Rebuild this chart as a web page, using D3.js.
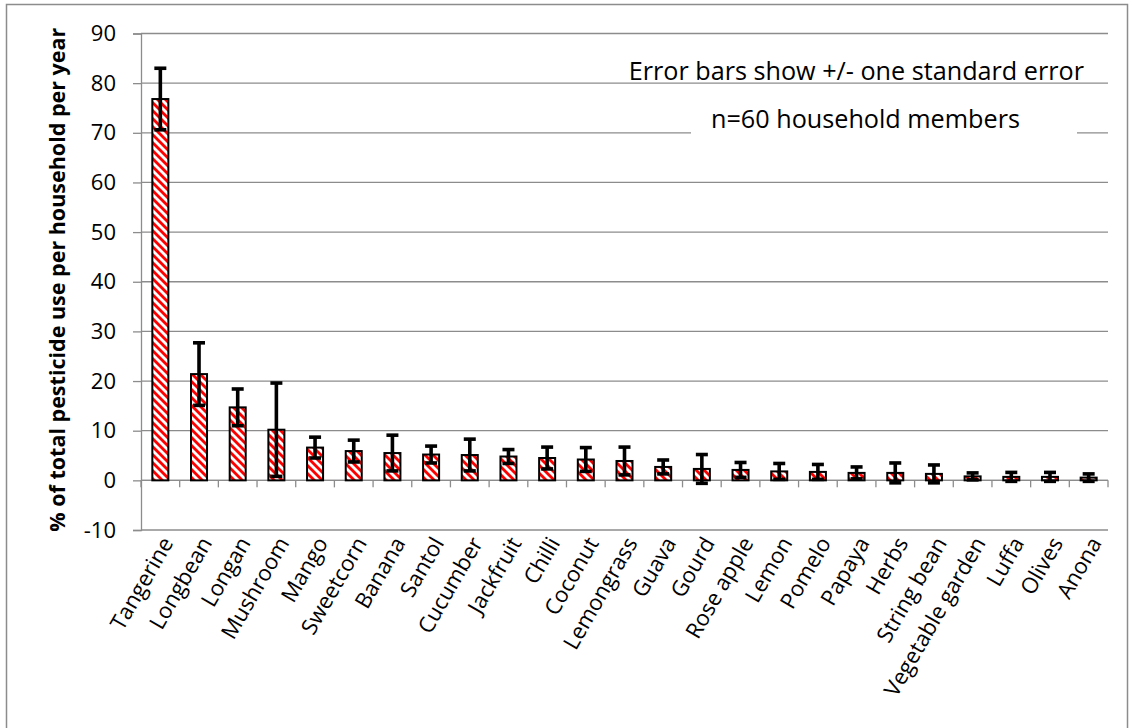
<!DOCTYPE html>
<html>
<head>
<meta charset="utf-8">
<script src="https://cdn.jsdelivr.net/npm/d3@7"></script>
<style>
  html, body { margin: 0; padding: 0; background: #fff; }
  svg { display: block; font-family: "Open Sans", "Noto Sans", sans-serif; }
</style>
</head>
<body>
<svg id="chart" width="1132" height="728"></svg>
<script>
// Crops ranked by share of household pesticide use
const crops = ["Tangerine", "Longbean", "Longan", "Mushroom", "Mango", "Sweetcorn", "Banana",
  "Santol", "Cucumber", "Jackfruit", "Chilli", "Coconut", "Lemongrass", "Guava", "Gourd",
  "Rose apple", "Lemon", "Pomelo", "Papaya", "Herbs", "String bean", "Vegetable garden",
  "Luffa", "Olives", "Anona"];
// Mean % of total pesticide use per household per year
const meanShare = [76.8, 21.4, 14.7, 10.2, 6.6, 5.9, 5.5, 5.2, 5.1, 4.8, 4.5, 4.2, 3.9,
  2.7, 2.3, 2.1, 1.8, 1.7, 1.5, 1.5, 1.3, 0.8, 0.7, 0.7, 0.55];
// One standard error either side of the mean
const stdError = [6.2, 6.3, 3.7, 9.4, 2.1, 2.2, 3.6, 1.7, 3.2, 1.4, 2.2, 2.4, 2.8,
  1.4, 2.9, 1.5, 1.6, 1.5, 1.2, 2.0, 1.8, 0.7, 0.9, 0.9, 0.75];
const yTicks = [-10, 0, 10, 20, 30, 40, 50, 60, 70, 80, 90];
const yTitle = "% of total pesticide use per household per year";
const noteLines = ["Error bars show +/- one standard error", "n=60 household members"];

const rows = crops.map((c, i) => ({ crop: c, mean: meanShare[i], se: stdError[i] }));

const svg = d3.select("#chart");
const plot = { left: 141, right: 1108, top: 33.5, bottom: 530 };
const grey = "#8c8c8c";

// Outer chart frame
svg.append("rect")
  .attr("x", 6.5).attr("y", 4.5)
  .attr("width", 1121).attr("height", 760)
  .attr("fill", "none").attr("stroke", grey).attr("stroke-width", 1.5);

// Red / white downward diagonal hatch
const defs = svg.append("defs");
const pat = defs.append("pattern")
  .attr("id", "hatch").attr("patternUnits", "userSpaceOnUse")
  .attr("width", 8).attr("height", 8);
pat.append("rect").attr("width", 8).attr("height", 8).attr("fill", "#fff");
pat.append("polygon").attr("points", "0,0 4,0 8,4 8,8").attr("fill", "#ff0000");
pat.append("polygon").attr("points", "0,4 4,8 0,8").attr("fill", "#ff0000");

const x = d3.scaleBand()
  .domain(crops)
  .range([plot.left, plot.right])
  .paddingInner(0.586)
  .paddingOuter(0.293);

const y = d3.scaleLinear()
  .domain([-10, 90])
  .range([plot.bottom, plot.top]);

// Horizontal gridlines
svg.append("g").selectAll("line")
  .data(yTicks)
  .join("line")
  .attr("x1", plot.left).attr("x2", plot.right)
  .attr("y1", d => y(d)).attr("y2", d => y(d))
  .attr("stroke", grey).attr("stroke-width", 1.3);

// Value axis
const yAxis = svg.append("g")
  .attr("transform", `translate(${plot.left},0)`)
  .call(d3.axisLeft(y).tickValues(yTicks).tickSize(8).tickPadding(17)
    .tickFormat(d => (d < 0 ? "-" + Math.abs(d) : String(d))));
yAxis.attr("font-family", null).attr("font-size", null);
yAxis.select(".domain").attr("stroke", grey).attr("stroke-width", 1.3);
yAxis.selectAll(".tick line").attr("stroke", grey).attr("stroke-width", 1.3);
yAxis.selectAll("text")
  .attr("font-size", 22).attr("fill", "#000");

// Category axis through zero, ticks between categories
const step = x.step();
const catAxis = svg.append("g");
catAxis.append("line")
  .attr("x1", plot.left).attr("x2", plot.right)
  .attr("y1", y(0)).attr("y2", y(0))
  .attr("stroke", grey).attr("stroke-width", 1.3);
catAxis.selectAll("line.tick")
  .data(d3.range(crops.length + 1))
  .join("line")
  .attr("class", "tick")
  .attr("x1", i => plot.left + i * step).attr("x2", i => plot.left + i * step)
  .attr("y1", y(0)).attr("y2", y(0) + 7)
  .attr("stroke", grey).attr("stroke-width", 1.3);

// Bars
svg.append("g").selectAll("rect")
  .data(rows)
  .join("rect")
  .attr("x", d => x(d.crop))
  .attr("width", x.bandwidth())
  .attr("y", d => y(d.mean))
  .attr("height", d => y(0) - y(d.mean))
  .attr("fill", "url(#hatch)")
  .attr("stroke", "#000").attr("stroke-width", 2);

// Error bars
const eb = svg.append("g").attr("stroke", "#000").attr("stroke-width", 3.6);
const cx = d => x(d.crop) + x.bandwidth() / 2;
eb.selectAll("line.stem").data(rows).join("line").attr("class", "stem")
  .attr("x1", cx).attr("x2", cx)
  .attr("y1", d => y(d.mean + d.se)).attr("y2", d => y(d.mean - d.se));
eb.selectAll("line.capTop").data(rows).join("line").attr("class", "capTop")
  .attr("x1", d => cx(d) - 6).attr("x2", d => cx(d) + 6)
  .attr("y1", d => y(d.mean + d.se)).attr("y2", d => y(d.mean + d.se));
eb.selectAll("line.capBot").data(rows).join("line").attr("class", "capBot")
  .attr("x1", d => cx(d) - 6).attr("x2", d => cx(d) + 6)
  .attr("y1", d => y(d.mean - d.se)).attr("y2", d => y(d.mean - d.se));

// Category labels, slanted
svg.append("g").selectAll("text")
  .data(crops)
  .join("text")
  .attr("transform", d => `translate(${x(d) + x.bandwidth() / 2 + 7},${y(-10) + 9}) rotate(-60)`)
  .attr("text-anchor", "end")
  .attr("dy", "0.35em")
  .attr("font-size", 22)
  .attr("fill", "#000")
  .text(d => d);

// Value axis title
svg.append("text")
  .attr("transform", `translate(57,${(plot.top + plot.bottom) / 2 - 2}) rotate(-90)`)
  .attr("text-anchor", "middle")
  .attr("dy", "0.35em")
  .attr("font-size", 21.5)
  .attr("font-weight", "bold")
  .attr("fill", "#000")
  .text(yTitle);

// Notes in the upper right
svg.append("text")
  .attr("x", 1084).attr("y", 80)
  .attr("text-anchor", "end")
  .attr("font-size", 25.2).attr("fill", "#000")
  .text(noteLines[0]);
svg.append("rect")
  .attr("x", 691).attr("y", y(70) - 24)
  .attr("width", 386).attr("height", 44)
  .attr("fill", "#fff");
svg.append("text")
  .attr("x", 711).attr("y", 128)
  .attr("text-anchor", "start")
  .attr("font-size", 25.2).attr("fill", "#000")
  .text(noteLines[1]);
</script>
</body>
</html>
